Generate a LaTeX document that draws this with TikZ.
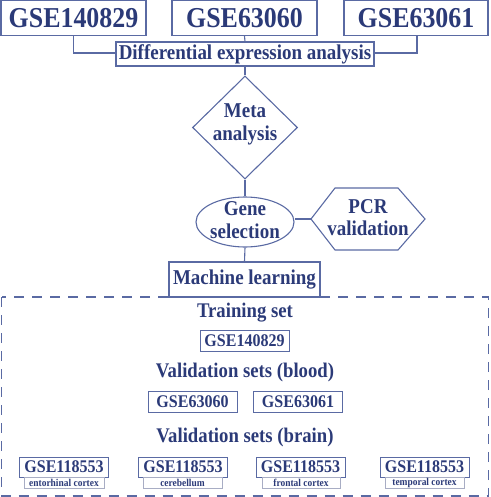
\documentclass[tikz,border=0pt]{standalone}
\usepackage{fontspec}
\setmainfont{Liberation Serif}[FakeStretch=0.9]
\usetikzlibrary{shapes.geometric}
\definecolor{txt}{HTML}{2B3A78}
\definecolor{ln}{HTML}{5A6AA3}
\definecolor{lg}{HTML}{A8ADC4}
\tikzset{
  every node/.style={text=txt,font=\bfseries,inner sep=0pt},
  bigbox/.style={draw=ln,line width=1.2pt,minimum height=35pt,font=\fontsize{28.8}{30}\selectfont\bfseries},
  midbox/.style={draw=ln,line width=1.1pt,font=\fontsize{21.1}{22.5}\selectfont\bfseries},
  smallbox/.style={draw=ln,line width=0.9pt,minimum width=89pt,minimum height=21pt,font=\fontsize{17.8}{19}\selectfont\bfseries},
  sublab/.style={draw=lg,line width=0.8pt,minimum height=11pt,font=\fontsize{10.5}{11}\selectfont\bfseries},
  head/.style={font=\fontsize{20.8}{22}\selectfont\bfseries},
  conn/.style={draw=ln,line width=1.1pt},
}
\begin{document}
\begin{tikzpicture}[x=1pt,y=-1pt]
\useasboundingbox (0,0) rectangle (490,497);
% top boxes
\node[bigbox,minimum width=145pt] (g1) at (73.5,18) {GSE140829};
\node[bigbox,minimum width=145pt] (g2) at (244.5,18) {GSE63060};
\node[bigbox,minimum width=144pt] (g3) at (416,18) {GSE63061};
\node[midbox,minimum width=258pt,minimum height=24pt] (dea) at (245,54) {Differential expression analysis};
\coordinate (c1) at (73.5,53);
\coordinate (c3) at (417,53);
\draw[conn] (g1.south -| c1) -- (c1) -- (dea.west |- c1);
\draw[conn] (g3.south -| c3) -- (c3) -- (dea.east |- c3);
\draw[conn] (g2.south) -- (dea.north);
% diamond
\node[draw=ln,line width=1.1pt,diamond,minimum width=105pt,minimum height=103pt] (meta) at (245,127.5) {};
\node[midbox,draw=none,align=center] (metat) at (245,124.5) {Meta\\analysis};
\draw[conn] (dea.south) -- (meta.north);
% ellipse
\node[draw=ln,line width=1.1pt,ellipse,minimum width=98pt,minimum height=50pt] (gene) at (245,222) {};
\node[midbox,draw=none,align=center] (genet) at (245,220) {Gene\\selection};
\draw[conn] (meta.south) -- (gene.north);
% hexagon
\draw[ln,line width=1.1pt] (311,219) -- (335,188) -- (398,188) -- (425,219) -- (398,250) -- (335,250) -- cycle;
\coordinate (pcrw) at (311,219);
\node[midbox,draw=none,align=center] (pcr) at (368,217.5) {PCR\\validation};
\draw[conn] (gene.east |- pcrw) -- (pcrw);
% machine learning
\node[midbox,minimum width=151pt,minimum height=35pt] (ml) at (244.5,279.5) {Machine learning};
\draw[conn] (gene.south) -- (ml.north);
% dashed box
\draw[ln,line width=1.5pt,dash pattern=on 10pt off 8pt] (1.5,297) rectangle (488.5,496);
\node[head] (ts) at (245,313) {Training set};
\node[smallbox] (t1) at (244.5,341) {GSE140829};
\node[head] (vb) at (245,372) {Validation sets (blood)};
\node[smallbox] (b1) at (192.5,401.5) {GSE63060};
\node[smallbox] (b2) at (298,401.5) {GSE63061};
\node[head] (vr) at (245,437) {Validation sets (brain)};
\node[smallbox,minimum height=20pt] (r1) at (64,467) {GSE118553};
\node[smallbox,minimum height=20pt] (r2) at (183,467) {GSE118553};
\node[smallbox,minimum height=20pt] (r3) at (300.5,467) {GSE118553};
\node[smallbox,minimum height=20pt] (r4) at (424.5,467) {GSE118553};
\node[sublab,minimum width=80pt] (s1) at (64,482.5) {entorhinal cortex};
\node[sublab,minimum width=79pt] (s2) at (182.5,482.5) {cerebellum};
\node[sublab,minimum width=78pt] (s3) at (301,482.5) {frontal cortex};
\node[sublab,minimum width=79pt] (s4) at (424.5,482.5) {temporal cortex};
\end{tikzpicture}
\end{document}
